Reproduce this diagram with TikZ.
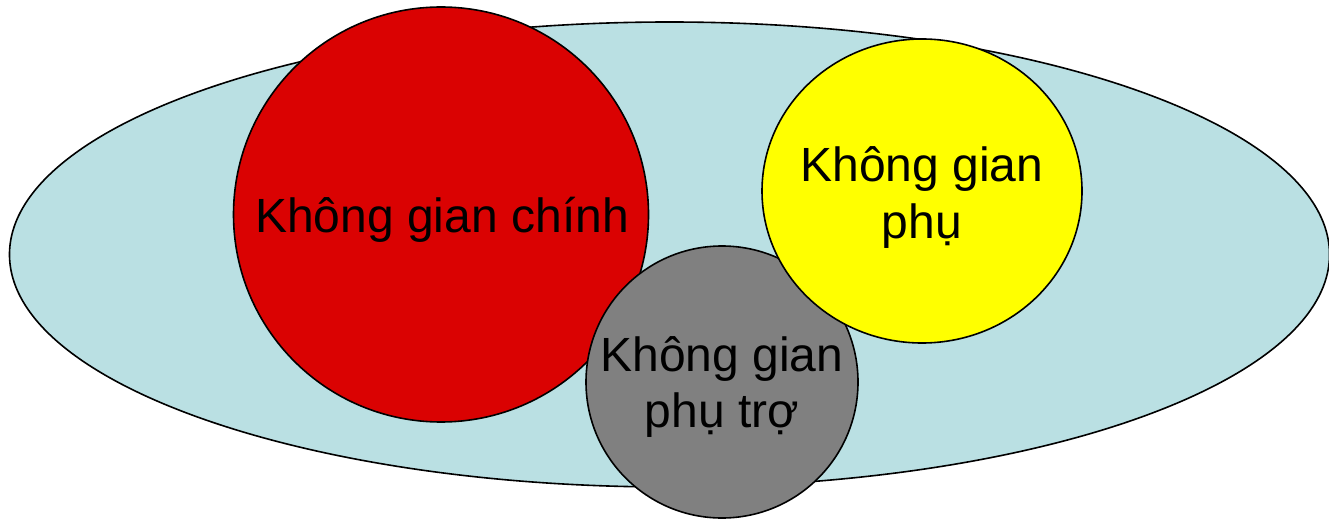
\documentclass[tikz,border=0pt]{standalone}
\usepackage{fontspec}
\setmainfont{Liberation Sans}
\definecolor{bgblue}{RGB}{186,224,227}
\definecolor{mainred}{RGB}{218,2,2}
\definecolor{subyellow}{RGB}{255,255,0}
\definecolor{auxgray}{RGB}{128,128,128}
\tikzset{
  zone/.style={draw=black, line width=1.6pt},
  lbl/.style={font=\fontsize{48}{56}\selectfont, text=black, align=center, inner sep=0pt, anchor=base}
}
\begin{document}
\begin{tikzpicture}[x=1pt,y=-1pt]
\useasboundingbox (0,0) rectangle (1329,521);
\draw[zone, fill=bgblue] (669.5,254.5) ellipse [x radius=660, y radius=232.5];
\draw[zone, fill=mainred] (441,214.5) circle [radius=207.5];
\draw[zone, fill=auxgray] (722,382) circle [radius=136];
\draw[zone, fill=subyellow] (922,191) ellipse [x radius=160, y radius=152];
\node[lbl] (tmain) at (442,233) {Không gian chính};
\node[lbl] (tsub) at (922,238) {Không gian\\phụ};
\node[lbl] (taux) at (722,427) {Không gian\\phụ trợ};
\end{tikzpicture}
\end{document}
